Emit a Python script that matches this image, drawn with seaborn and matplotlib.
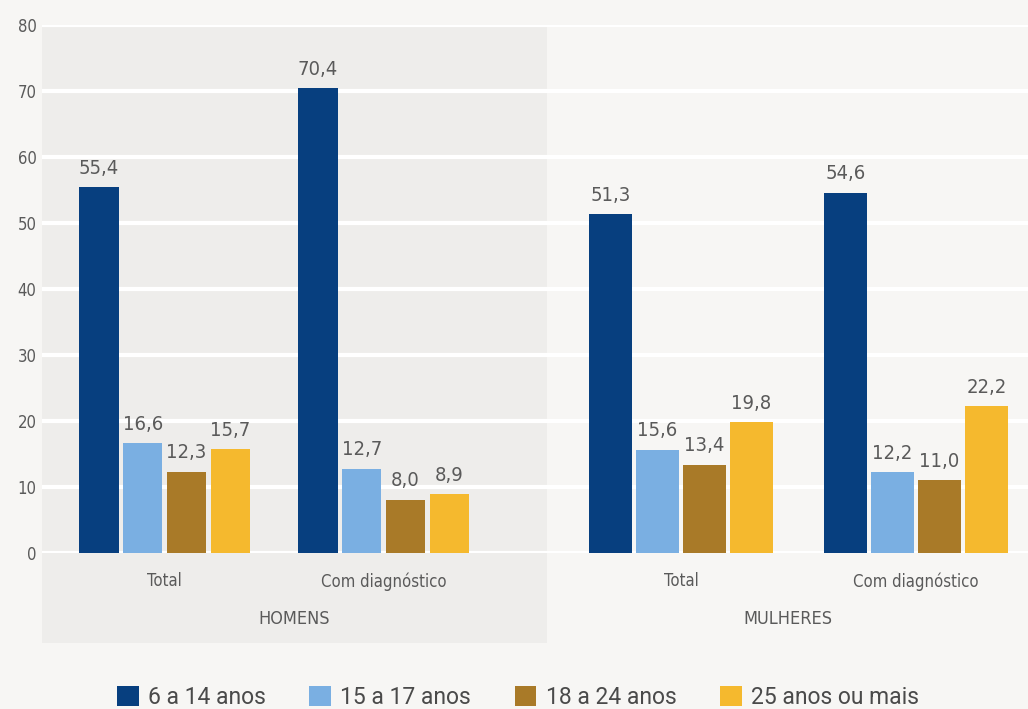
import matplotlib
matplotlib.use('Agg')
import matplotlib.pyplot as plt
import seaborn as sns
import pandas as pd
from matplotlib import font_manager
from matplotlib.font_manager import FontProperties
from matplotlib.patches import Rectangle, Patch

# ---------------- data ----------------
sexes = ['HOMENS', 'MULHERES']
categories = ['Total', 'Com diagnóstico']
age_groups = ['6 a 14 anos', '15 a 17 anos', '18 a 24 anos', '25 anos ou mais']
homens_total = [55.4, 16.6, 12.3, 15.7]
homens_diag = [70.4, 12.7, 8.0, 8.9]
mulheres_total = [51.3, 15.6, 13.4, 19.8]
mulheres_diag = [54.6, 12.2, 11.0, 22.2]
yticks = [0, 10, 20, 30, 40, 50, 60, 70, 80]

colors = ['#073f7f', '#7aafe2', '#a97a28', '#f5b92e']

rows = []
for sex, series in zip(sexes, [[homens_total, homens_diag], [mulheres_total, mulheres_diag]]):
    for cat, vals in zip(categories, series):
        for age, v in zip(age_groups, vals):
            rows.append({'sexo': sex, 'categoria': cat, 'faixa': age, 'valor': v})
df = pd.DataFrame(rows)

# ---------------- fonts ----------------
sns.set_theme(style='white')
names = {f.name for f in font_manager.fontManager.ttflist}
dejavu_cond = any(f.name == 'DejaVu Sans' and f.stretch == 'condensed' for f in font_manager.fontManager.ttflist)
if 'Liberation Sans Narrow' in names:
    cond_family, cond_stretch = 'Liberation Sans Narrow', 'normal'
elif dejavu_cond:
    cond_family, cond_stretch = 'DejaVu Sans', 'condensed'
else:
    cond_family, cond_stretch = 'Roboto', 'normal'

def fp(size):
    return FontProperties(family=cond_family, stretch=cond_stretch, size=size)

legend_family = 'Roboto' if 'Roboto' in names else 'DejaVu Sans'

TXT = '#5a5a5a'
BG = '#f7f6f4'
SHADE = '#eeedeb'

W, H = 1028, 709
fig = plt.figure(figsize=(W / 100, H / 100), dpi=100, facecolor=BG)

# shaded HOMENS panel (behind the axes)
fig.patches.append(Rectangle((42 / W, (H - 643) / H), (547 - 42) / W, (643 - 25) / H,
                             transform=fig.transFigure, facecolor=SHADE, edgecolor='none', zorder=-5))

ax1 = fig.add_axes([42 / W, (H - 553) / H, (547 - 42) / W, (553 - 25) / H])
ax2 = fig.add_axes([547 / W, (H - 553) / H, (W - 547) / W, (553 - 25) / H])

xlims = [(-0.56, 1.746), (-0.570, 1.477)]
for ax, sex, xl in zip([ax1, ax2], sexes, xlims):
    sub = df[df['sexo'] == sex]
    sns.barplot(data=sub, x='categoria', y='valor', hue='faixa', order=categories,
                hue_order=age_groups, palette=colors, saturation=1, width=0.8, gap=0.1,
                legend=False, ax=ax, edgecolor='none')
    ax.set_facecolor('none')
    ax.set_ylim(0, 80)
    ax.set_xlim(*xl)
    ax.set_yticks(yticks)
    ax.grid(axis='y', color='white', linewidth=3)
    ax.grid(axis='x', visible=False)
    ax.set_axisbelow(True)
    for s in ax.spines.values():
        s.set_visible(False)
    ax.tick_params(axis='both', length=0)
    ax.tick_params(axis='x', pad=14)
    ax.set_xticks(range(len(categories)))
    ax.set_xticklabels(categories, fontproperties=fp(12), color=TXT)
    ax.set_xlabel(sex, fontproperties=fp(13), color=TXT, labelpad=14)
    ax.set_ylabel('')
    for cont in ax.containers:
        labels = [f'{v:.1f}'.replace('.', ',') for v in cont.datavalues]
        ax.bar_label(cont, labels=labels, padding=7, fontproperties=fp(14.5), color=TXT)

ax1.tick_params(axis='y', pad=4)
ax1.set_yticklabels([str(t) for t in yticks], fontproperties=fp(12), color=TXT)
ax2.set_yticklabels([])

handles = [Patch(facecolor=c, edgecolor='none', label=a) for c, a in zip(colors, age_groups)]
fig.legend(handles=handles, loc='center', bbox_to_anchor=(518 / W, (H - 697) / H), ncol=4,
           frameon=False, handlelength=0.95, handleheight=0.95, handletextpad=0.4,
           columnspacing=1.9, prop=FontProperties(family=legend_family, size=16.5),
           labelcolor='#4a4a4a')

fig.savefig('out.png', dpi=100, facecolor=BG)
